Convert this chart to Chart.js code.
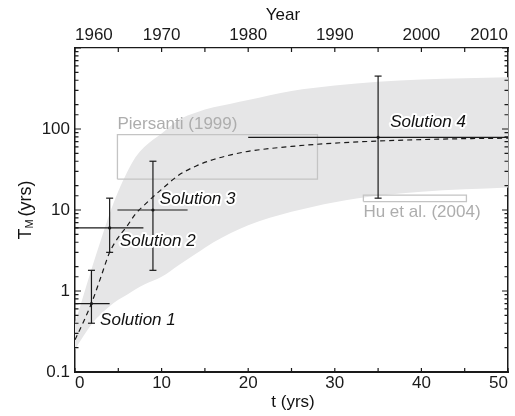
<!DOCTYPE html>
<html>
<head>
<meta charset="utf-8">
<script src="https://cdn.jsdelivr.net/npm/chart.js@4"></script>
<style>
  body { margin: 0; background: #fff; }
  #wrap { width: 515px; height: 416px; position: relative; }
</style>
</head>
<body>
<div id="wrap"><canvas id="myChart"></canvas></div>
<script>
// model curve (dashed)
const curveT = [0, 1, 2, 3, 4, 5, 6, 7, 8, 9, 10, 12, 14, 16, 18, 20, 25, 30, 35, 40, 45, 50];
const curveV = [0.25, 0.42, 0.75, 1.5, 3.0, 4.6, 6.3, 9.0, 11.5, 14.5, 18, 27, 35, 42, 48, 53, 61, 67, 71, 74, 76, 77];

// grey band
const bandT     = [0, 1, 2, 3, 4, 5, 6, 7, 8, 10, 12, 14, 16, 18, 20, 25, 30, 35, 40, 45, 50];
const bandUpper = [0.4, 0.9, 2.0, 4.3, 9, 17, 29, 45, 60, 88, 130, 160, 185, 205, 228, 295, 345, 383, 408, 424, 435];
const bandLower = [0.19, 0.28, 0.4, 0.52, 0.65, 0.78, 0.9, 1.05, 1.2, 1.5, 2.1, 2.9, 4.0, 5.2, 6.5, 9.5, 12.5, 15, 16.8, 18, 19];

// solutions with error bars
const solNames = ['Solution 1', 'Solution 2', 'Solution 3', 'Solution 4'];
const solT     = [1.9, 4, 9, 35];
const solTlo   = [0, 0, 4.9, 20];
const solThi   = [4, 7.9, 13, 50];
const solV     = [0.7, 6, 10, 79];
const solVlo   = [0.4, 3.0, 1.8, 14];
const solVhi   = [1.8, 14, 40, 450];

// literature boxes
const boxNames = ['Piersanti (1999)', 'Hu et al. (2004)'];
const boxT0 = [4.9, 33.3];
const boxT1 = [28, 45.2];
const boxV0 = [24, 12.7];
const boxV1 = [85, 15.3];

const xTicks = [0, 10, 20, 30, 40, 50];
const yearTicks = [1960, 1970, 1980, 1990, 2000, 2010];
const yLabels = [0.1, 1, 10, 100];

const ink = '#1a1a1a';
const datasets = [];

datasets.push({
    data: curveT.map((t, i) => ({x: t, y: curveV[i]})),
    showLine: true, borderColor: ink, borderWidth: 1.2, borderDash: [5, 4],
    pointRadius: 0, cubicInterpolationMode: 'monotone', order: 1
});

for (let i = 0; i < solT.length; i++) {
    datasets.push({
        data: [{x: solTlo[i], y: solV[i]}, {x: solThi[i], y: solV[i]}],
        showLine: true, borderColor: ink, borderWidth: 1.2, pointRadius: 0, order: 0
    });
    datasets.push({
        data: [{x: solT[i], y: solVlo[i]}, {x: solT[i], y: solVhi[i]}],
        showLine: true, borderColor: ink, borderWidth: 1.2,
        pointStyle: 'line', pointRadius: 3.5, pointBorderColor: ink, pointBorderWidth: 1.2, order: 0
    });
    datasets.push({
        data: [{x: solT[i], y: solV[i]}],
        pointRadius: 1.6, pointBackgroundColor: ink, pointBorderWidth: 0, order: 0
    });
}

for (let i = 0; i < boxT0.length; i++) {
    datasets.push({
        data: [{x: boxT0[i], y: boxV0[i]}, {x: boxT1[i], y: boxV0[i]}, {x: boxT1[i], y: boxV1[i]},
               {x: boxT0[i], y: boxV1[i]}, {x: boxT0[i], y: boxV0[i]}],
        showLine: true, borderColor: '#c4c4c4', borderWidth: 1.3, pointRadius: 0, order: 5
    });
}

// band: upper filled down to lower
datasets.push({
    data: bandT.map((t, i) => ({x: t, y: bandUpper[i]})),
    showLine: true, borderWidth: 0, borderColor: 'rgba(0,0,0,0)', pointRadius: 0,
    backgroundColor: '#e6e6e7', fill: '+1', cubicInterpolationMode: 'monotone', order: 10
});
datasets.push({
    data: bandT.map((t, i) => ({x: t, y: bandLower[i]})),
    showLine: true, borderWidth: 0, borderColor: 'rgba(0,0,0,0)', pointRadius: 0,
    fill: false, cubicInterpolationMode: 'monotone', order: 10
});

function isDecade(v) {
    const l = Math.log10(v);
    return Math.abs(l - Math.round(l)) < 1e-6;
}

const tickFont = {family: 'Liberation Sans, Arial, sans-serif', size: 17};

const decor = {
    id: 'decor',
    afterDraw(chart) {
        const {ctx, chartArea: a, scales: {x, y}} = chart;
        ctx.save();
        ctx.strokeStyle = ink;
        ctx.lineWidth = 1.2;
        // inward tick marks
        for (let t = x.min; t <= x.max; t += 5) {
            const px = x.getPixelForValue(t);
            ctx.beginPath();
            ctx.moveTo(px, a.bottom); ctx.lineTo(px, a.bottom - 4);
            ctx.moveTo(px, a.top); ctx.lineTo(px, a.top + 4);
            ctx.stroke();
        }
        y.ticks.forEach(tk => {
            const py = y.getPixelForValue(tk.value);
            const len = isDecade(tk.value) ? 6 : 3.5;
            ctx.beginPath();
            ctx.moveTo(a.left, py); ctx.lineTo(a.left + len, py);
            ctx.moveTo(a.right, py); ctx.lineTo(a.right - len, py);
            ctx.stroke();
        });

        // annotations
        ctx.textBaseline = 'middle';
        ctx.textAlign = 'left';
        ctx.font = 'italic 17px Liberation Sans, Arial, sans-serif';
        const solPos = [[2.9, 0.44], [5.2, 4.1], [9.8, 13.7], [36.4, 122]];
        solNames.forEach((s, i) => {
            const px = x.getPixelForValue(solPos[i][0]);
            const py = y.getPixelForValue(solPos[i][1]);
            ctx.lineJoin = 'round';
            ctx.strokeStyle = '#fff';
            ctx.lineWidth = 4;
            ctx.strokeText(s, px, py);
            ctx.fillStyle = '#111';
            ctx.fillText(s, px, py);
        });
        ctx.font = '17px Liberation Sans, Arial, sans-serif';
        ctx.fillStyle = '#adadad';
        const boxPos = [[4.9, 115], [33.3, 9.4]];
        boxNames.forEach((s, i) => {
            ctx.fillText(s, x.getPixelForValue(boxPos[i][0]), y.getPixelForValue(boxPos[i][1]));
        });

        // axis titles
        ctx.fillStyle = '#111';
        ctx.textAlign = 'center';
        ctx.font = '17px Liberation Sans, Arial, sans-serif';
        ctx.fillText('Year', 283, 15);
        ctx.fillText('t (yrs)', 293, 402);
        ctx.translate(26, (a.top + a.bottom) / 2);
        ctx.rotate(-Math.PI / 2);
        ctx.textAlign = 'left';
        ctx.font = '18px Liberation Sans, Arial, sans-serif';
        const wT = ctx.measureText('T').width;
        ctx.font = '11px Liberation Sans, Arial, sans-serif';
        const wM = ctx.measureText('M').width;
        ctx.font = '18px Liberation Sans, Arial, sans-serif';
        const wR = ctx.measureText('(yrs)').width;
        const total = wT + wM + 3 + wR;
        let cx = -total / 2;
        ctx.fillText('T', cx, 0); cx += wT;
        ctx.font = '11px Liberation Sans, Arial, sans-serif';
        ctx.fillText('M', cx, 4); cx += wM + 3;
        ctx.font = '18px Liberation Sans, Arial, sans-serif';
        ctx.fillText('(yrs)', cx, 0);
        ctx.restore();
    }
};

new Chart(document.getElementById('myChart').getContext('2d'), {
    type: 'scatter',
    data: {datasets: datasets},
    options: {
        responsive: true,
        maintainAspectRatio: false,
        animation: false,
        layout: {padding: 0},
        plugins: {legend: {display: false}, tooltip: {enabled: false}},
        scales: {
            x: {
                type: 'linear', position: 'bottom', min: 0, max: 50,
                afterBuildTicks: s => { s.ticks = xTicks.map(v => ({value: v})); },
                ticks: {font: tickFont, color: ink, align: 'inner', padding: 1, maxRotation: 0, autoSkip: false,
                        callback: v => String(v)},
                grid: {display: false, drawTicks: false},
                border: {color: ink, width: 2},
                afterFit: s => { s.height = 44; }
            },
            x2: {
                type: 'linear', position: 'top', min: 1960, max: 2010,
                afterBuildTicks: s => { s.ticks = yearTicks.map(v => ({value: v})); },
                ticks: {font: tickFont, color: ink, align: 'inner', padding: 2, maxRotation: 0, autoSkip: false,
                        callback: v => String(v)},
                grid: {display: false, drawTicks: false},
                border: {color: ink, width: 1.2},
                afterFit: s => { s.height = 48; }
            },
            y: {
                type: 'logarithmic', position: 'left', min: 0.1, max: 1000,
                ticks: {
                    font: tickFont, color: ink, padding: 5, autoSkip: false,
                    callback: v => {
                        const hit = yLabels.find(l => Math.abs(l - v) < l * 1e-6);
                        return hit === undefined ? '' : String(hit);
                    }
                },
                grid: {display: false, drawTicks: false},
                border: {color: ink, width: 1.5},
                afterFit: s => { s.width = 75; }
            },
            y2: {
                type: 'logarithmic', position: 'right', min: 0.1, max: 1000,
                ticks: {display: false},
                grid: {display: false, drawTicks: false},
                border: {color: ink, width: 1.5},
                afterFit: s => { s.width = 7; }
            }
        }
    },
    plugins: [decor]
});
</script>
</body>
</html>
